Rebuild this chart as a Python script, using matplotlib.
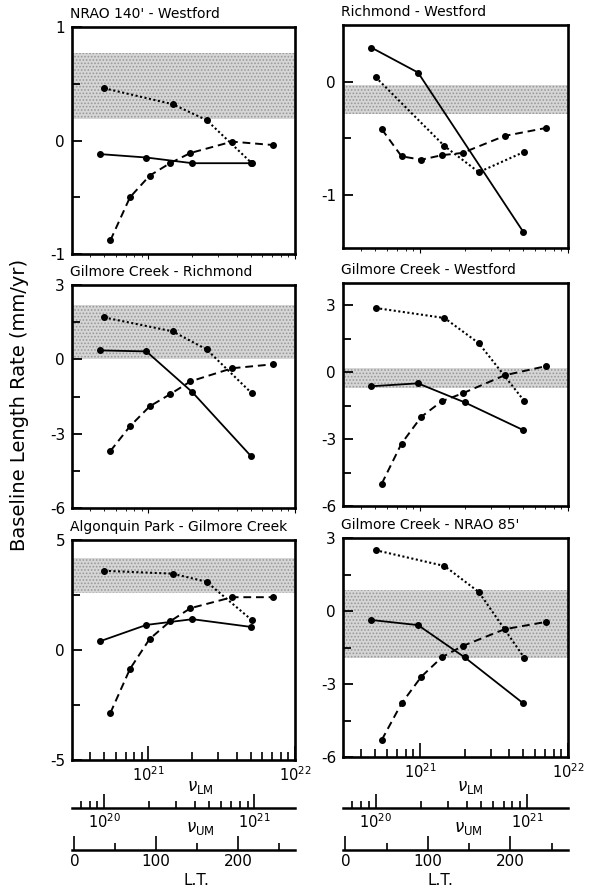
import numpy as np
import matplotlib
matplotlib.use('Agg')
import matplotlib.pyplot as plt
from matplotlib.ticker import LogLocator, FixedLocator, NullFormatter, FixedFormatter
from matplotlib.transforms import offset_copy

plt.rcParams['font.family'] = ['DejaVu Sans']
plt.rcParams['mathtext.fontset'] = 'dejavusans'
plt.rcParams['hatch.linewidth'] = 0.8
plt.rcParams['hatch.color'] = '#8a8a8a'

W, H, DPI = 595, 888, 100

# ---------------- data ----------------
titles = ["NRAO 140' - Westford", "Richmond - Westford",
          "Gilmore Creek - Richmond", "Gilmore Creek - Westford",
          "Algonquin Park - Gilmore Creek", "Gilmore Creek - NRAO 85'"]

# x values of each series on its own scale
lm_x = [4.7e20, 9.7e20, 2.0e21, 5.0e21]          # solid  : lower-mantle viscosity
um_x = [1.0e20, 2.85e20, 4.8e20, 9.6e20]          # dotted : upper-mantle viscosity
lt_x = [44, 68, 92, 117, 142, 193, 243]            # dashed : lithospheric thickness

solid_y = [
    [-0.12, -0.15, -0.20, -0.20],
    [0.30, 0.08, np.nan, -1.33],
    [0.36, 0.32, -1.33, -3.90],
    [-0.63, -0.50, -1.35, -2.60],
    [0.40, 1.14, 1.40, 1.05],
    [-0.37, -0.58, -1.90, -3.80],
]
dotted_y = [
    [0.46, 0.32, 0.18, -0.20],
    [0.04, -0.57, -0.80, -0.62],
    [1.69, 1.13, 0.40, -1.37],
    [2.88, 2.43, 1.30, -1.30],
    [3.60, 3.47, 3.10, 1.36],
    [2.50, 1.85, 0.78, -1.93],
]
dashed_y = [
    [-0.88, -0.50, -0.31, -0.20, -0.11, -0.01, -0.04],
    [-0.42, -0.66, -0.69, -0.65, -0.63, -0.48, -0.41],
    [-3.70, -2.70, -1.90, -1.41, -0.89, -0.36, -0.20],
    [-5.00, -3.20, -2.00, -1.30, -0.95, -0.14, 0.27],
    [-2.86, -0.86, 0.50, 1.30, 1.90, 2.40, 2.40],
    [-5.30, -3.80, -2.70, -1.90, -1.44, -0.75, -0.45],
]
band_lo = [0.19, -0.29, 0.00, -0.72, 2.60, -1.93]
band_hi = [0.77, -0.03, 2.20, 0.18, 4.20, 0.86]

ylims = [(-1, 1), (-1.47, 0.5), (-6, 3), (-6, 4), (-5, 5), (-6, 3)]
ymajor = [[-1, 0, 1], [-1, 0], [-6, -3, 0, 3], [-6, -3, 0, 3], [-5, 0, 5], [-6, -3, 0, 3]]
ymajor_lbl = [["-1", "0", "1"], ["-1", "0"], ["-6", "-3", "0", "3"], ["-6", "-3", "0", "3"],
              ["-5", "0", "5"], ["-6", "-3", "0", "3"]]
yminor = [[-0.5, 0.5], [-0.5], [-4.5, -1.5, 1.5], [-4.5, -1.5, 1.5], [-2.5, 2.5], [-4.5, -1.5, 1.5]]

lm_lim = (10 ** 20.48, 1e22)
um_lim = (10 ** 19.785, 10 ** 21.27)
lt_lim = (-3, 270)
lt_major = [0, 100, 200]
lt_minor = [50, 150, 250]

# ---------------- layout (pixel boxes: left, top, right, bottom) ----------------
boxes = [(72, 27, 295, 254), (343, 25, 568, 248),
         (72, 285, 295, 508), (343, 283, 568, 506),
         (72, 540, 295, 760), (343, 538, 568, 757)]


def frac(l, t, r, b):
    return [l / W, 1 - b / H, (r - l) / W, (b - t) / H]


fig = plt.figure(figsize=(W / DPI, H / DPI), dpi=DPI)

FRAME_LW = 1.9
for i in range(6):
    l, t, r, b = boxes[i]
    ax = fig.add_axes(frac(l, t, r, b))
    ax.set_xscale('log')
    ax.set_xlim(*lm_lim)
    ax.set_ylim(*ylims[i])
    for s in ax.spines.values():
        s.set_linewidth(FRAME_LW)
    ax.axhspan(band_lo[i], band_hi[i], facecolor='#d6d6d6', edgecolor='#999999',
               hatch='.....', linewidth=0, zorder=0.5)

    ax.yaxis.set_major_locator(FixedLocator(ymajor[i]))
    ax.yaxis.set_major_formatter(FixedFormatter(ymajor_lbl[i]))
    ax.yaxis.set_minor_locator(FixedLocator(yminor[i]))
    ax.tick_params(axis='y', which='both', direction='in', right=False, width=1.3,
                   labelsize=11, pad=5)
    ax.tick_params(axis='y', which='major', length=7)
    ax.tick_params(axis='y', which='minor', length=6)

    if i >= 4:
        ax.xaxis.set_major_locator(LogLocator(base=10, numticks=10))
        ax.xaxis.set_minor_locator(LogLocator(base=10, subs=np.arange(2, 10), numticks=20))
        ax.xaxis.set_minor_formatter(NullFormatter())
        ax.tick_params(axis='x', which='both', direction='in', top=False, width=1.2,
                       labelsize=10.5, pad=4)
        ax.tick_params(axis='x', which='major', length=10)
        ax.tick_params(axis='x', which='minor', length=6)
    else:
        ax.tick_params(axis='x', which='both', bottom=False, top=False,
                       labelbottom=False)

    ttrans = offset_copy(ax.transAxes, fig=fig, x=0, y=4, units='points')
    ax.text(-0.01, 1.0, titles[i], transform=ttrans, fontsize=10,
            ha='left', va='bottom')

    # solid: lower-mantle viscosity
    sy = np.array(solid_y[i], dtype=float)
    sx = np.array(lm_x, dtype=float)
    m = ~np.isnan(sy)
    ax.plot(sx[m], sy[m], '-', color='black', lw=1.3, marker='o', ms=4, zorder=3)

    # dotted: upper-mantle viscosity scale
    axu = ax.twiny()
    axu.set_xscale('log')
    axu.set_xlim(*um_lim)
    axu.plot(um_x, dotted_y[i], color='black', lw=1.5, ls=(0, (1, 1.2)),
             marker='o', ms=4, zorder=3)

    # dashed: lithospheric thickness scale
    axl = ax.twiny()
    axl.set_xlim(*lt_lim)
    axl.plot(lt_x, dashed_y[i], color='black', lw=1.4, ls=(0, (4, 2.5)),
             marker='o', ms=4, zorder=3)

    for tw in (axu, axl):
        tw.set_ylim(*ylims[i])
        tw.axis('off')

# ---------------- bottom scales ----------------
cols = [(72, 295), (343, 568)]
for c, (l, r) in enumerate(cols):
    # upper-mantle viscosity axis
    axU = fig.add_axes([l / W, 1 - 808 / H, (r - l) / W, 0.001])
    axU.set_xscale('log')
    axU.set_xlim(*um_lim)
    axU.set_yticks([])
    for k in ('top', 'left', 'right'):
        axU.spines[k].set_visible(False)
    axU.spines['bottom'].set_linewidth(1.8)
    axU.patch.set_visible(False)
    axU.xaxis.set_major_locator(LogLocator(base=10, numticks=10))
    axU.xaxis.set_minor_locator(LogLocator(base=10, subs=np.arange(2, 10), numticks=20))
    axU.xaxis.set_minor_formatter(NullFormatter())
    axU.tick_params(axis='x', which='both', direction='in', width=1.2, labelsize=10.5, pad=3)
    axU.tick_params(axis='x', which='major', length=10)
    axU.tick_params(axis='x', which='minor', length=5)

    # lithospheric thickness axis
    axT = fig.add_axes([l / W, 1 - 850 / H, (r - l) / W, 0.001])
    axT.set_xlim(*lt_lim)
    axT.set_yticks([])
    for k in ('top', 'left', 'right'):
        axT.spines[k].set_visible(False)
    axT.spines['bottom'].set_linewidth(1.8)
    axT.patch.set_visible(False)
    axT.xaxis.set_major_locator(FixedLocator(lt_major))
    axT.xaxis.set_minor_locator(FixedLocator(lt_minor))
    axT.tick_params(axis='x', which='both', direction='in', width=1.2, labelsize=11, pad=3)
    axT.tick_params(axis='x', which='major', length=10)
    axT.tick_params(axis='x', which='minor', length=5)

fig.text(200 / W, 1 - 787 / H, r'$\nu_{\rm LM}$', fontsize=12, ha='center', va='center')
fig.text(470 / W, 1 - 787 / H, r'$\nu_{\rm LM}$', fontsize=12, ha='center', va='center')
fig.text(200 / W, 1 - 828 / H, r'$\nu_{\rm UM}$', fontsize=12, ha='center', va='center')
fig.text(468 / W, 1 - 828 / H, r'$\nu_{\rm UM}$', fontsize=12, ha='center', va='center')
fig.text(196 / W, 1 - 880 / H, 'L.T.', fontsize=11, ha='center', va='center')
fig.text(440 / W, 1 - 880 / H, 'L.T.', fontsize=11, ha='center', va='center')

fig.text(20 / W, 1 - 405 / H, 'Baseline Length Rate (mm/yr)', rotation=90,
         fontsize=14, ha='center', va='center')

fig.savefig('out.png', dpi=DPI)
